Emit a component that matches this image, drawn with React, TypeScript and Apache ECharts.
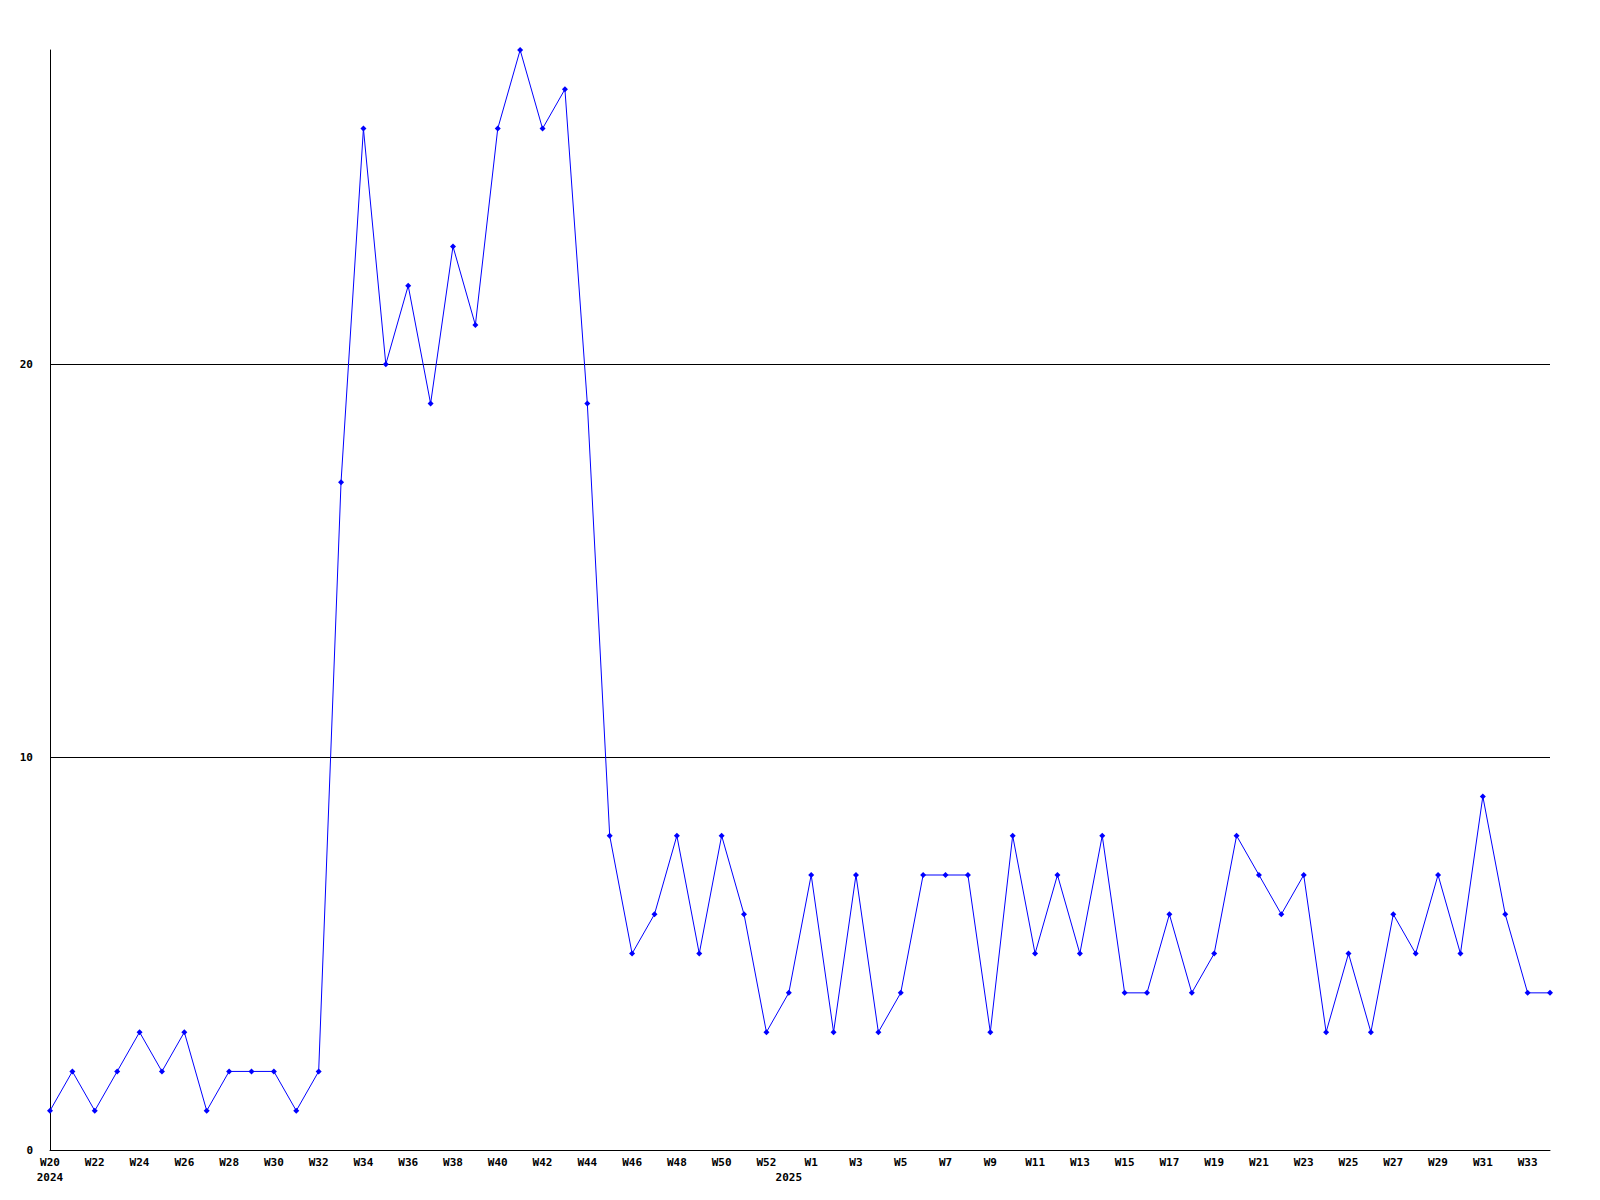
import React, { useEffect, useRef } from "react";
import * as echarts from "echarts";

const weeks2024: string[] = [
  "W20", "W21", "W22", "W23", "W24", "W25", "W26", "W27", "W28", "W29", "W30",
  "W31", "W32", "W33", "W34", "W35", "W36", "W37", "W38", "W39", "W40", "W41",
  "W42", "W43", "W44", "W45", "W46", "W47", "W48", "W49", "W50", "W51", "W52", "W53",
];
const weeks2025: string[] = [
  "W1", "W2", "W3", "W4", "W5", "W6", "W7", "W8", "W9", "W10", "W11", "W12",
  "W13", "W14", "W15", "W16", "W17", "W18", "W19", "W20", "W21", "W22", "W23",
  "W24", "W25", "W26", "W27", "W28", "W29", "W30", "W31", "W32", "W33", "W34",
];
const categories: string[] = [...weeks2024, ...weeks2025];

const values: number[] = [
  1, 2, 1, 2, 3, 2, 3, 1, 2, 2, 2, 1, 2, 17, 26, 20, 22, 19, 23, 21, 26, 28,
  26, 27, 19, 8, 5, 6, 8, 5, 8, 6, 3, 4,
  7, 3, 7, 3, 4, 7, 7, 7, 3, 8, 5, 7, 5, 8, 4, 4, 6, 4, 5, 8, 7, 6, 7, 3, 5,
  3, 6, 5, 7, 5, 9, 6, 4, 4,
];

const yTicks: number[] = [0, 10, 20];

export default function App() {
  const ref = useRef<HTMLDivElement>(null);
  useEffect(() => {
    document.body.style.margin = "0";
    const chart = echarts.init(ref.current!, null, { renderer: "svg" });
    const font = "DejaVu Sans Mono";
    const year2025Index = weeks2024.length - 1;
    chart.setOption({
      animation: false,
      backgroundColor: "#ffffff",
      grid: { left: 50, right: 50, top: 50, bottom: 50, containLabel: false },
      xAxis: {
        type: "category",
        data: categories,
        boundaryGap: false,
        axisLine: { show: true, lineStyle: { color: "#000", width: 1 } },
        axisTick: { show: false },
        splitLine: { show: false },
        axisLabel: {
          interval: (i: number) => i % 2 === 0 || i === year2025Index,
          formatter: (v: string, i: number) => {
            if (i === 0) return v + "\n2024";
            if (i === year2025Index) return "\n2025";
            return v;
          },
          fontFamily: font,
          fontWeight: "bold",
          fontSize: 11,
          color: "#000",
          margin: 5,
          lineHeight: 15,
        },
      },
      yAxis: {
        type: "value",
        min: 0,
        max: 28,
        interval: 10,
        axisLine: { show: true, lineStyle: { color: "#000", width: 1 } },
        axisTick: { show: false },
        splitLine: {
          show: true,
          showMinLine: false,
          showMaxLine: false,
          lineStyle: { color: "#000", width: 1 },
        },
        axisLabel: {
          showMaxLabel: false,
          formatter: (v: number) => (yTicks.includes(v) ? String(v) : ""),
          fontFamily: font,
          fontWeight: "bold",
          fontSize: 11,
          color: "#000",
          margin: 17,
        },
      },
      series: [
        {
          type: "line",
          data: values,
          symbol: "diamond",
          symbolSize: 6,
          showAllSymbol: true,
          lineStyle: { color: "#0000ff", width: 1 },
          itemStyle: { color: "#0000ff" },
        },
      ],
    });
    return () => chart.dispose();
  }, []);
  return (
    <div
      ref={ref}
      style={{ width: 1600, height: 1200, position: "absolute", left: 0, top: 0 }}
    />
  );
}
